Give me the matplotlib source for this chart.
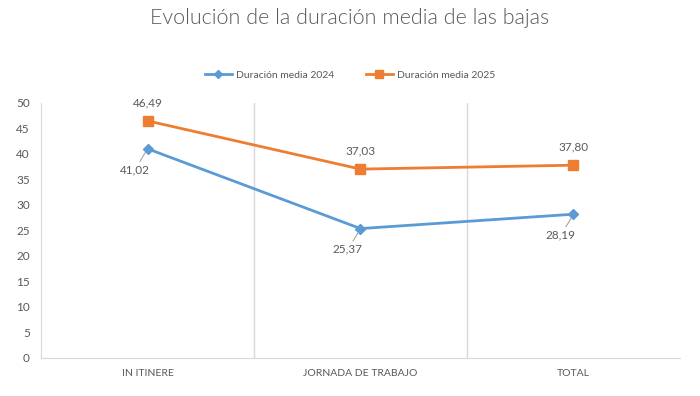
import matplotlib
matplotlib.use("Agg")
import matplotlib.pyplot as plt

plt.rcParams['font.family'] = ['Lato', 'DejaVu Sans']

# Datos
categorias = ["IN ITINERE", "JORNADA DE TRABAJO", "TOTAL"]
media_2024 = [41.02, 25.37, 28.19]
media_2025 = [46.49, 37.03, 37.80]
nombres = ["Duración media 2024", "Duración media 2025"]

azul = "#5B9BD5"
naranja = "#ED7D31"
gris_txt = "#595959"
gris_linea = "#D9D9D9"

fig = plt.figure(figsize=(7, 3.96), dpi=100)
ax = fig.add_axes([0.0586, 0.096, 0.9128, 0.644])

x = list(range(len(categorias)))
ax.plot(x, media_2024, color=azul, lw=2, marker="D", ms=5, label=nombres[0])
ax.plot(x, media_2025, color=naranja, lw=2, marker="s", ms=6.5, label=nombres[1])

ax.set_xlim(-0.5, len(categorias) - 0.5)
ax.set_ylim(0, 50)
ax.set_yticks(range(0, 51, 5))

# Lineas verticales entre categorias
for b in [i + 0.5 for i in range(len(categorias) - 1)]:
    ax.axvline(b, color=gris_linea, lw=1, zorder=0)

for s in ["top", "right"]:
    ax.spines[s].set_visible(False)
for s in ["left", "bottom"]:
    ax.spines[s].set_color(gris_linea)

ax.set_xticks(x)
ax.set_xticklabels(categorias, fontsize=7.5, color=gris_txt)
ax.tick_params(axis="x", length=0, pad=8)
ax.tick_params(axis="y", length=0, labelsize=8.5, labelcolor=gris_txt, pad=8)

# Etiquetas de datos
def fmt(v):
    return f"{v:.2f}".replace(".", ",")

for xi, v in zip(x, media_2024):
    ax.annotate(fmt(v), (xi, v), xytext=(-9, -15), textcoords="offset points",
                ha="center", va="center", fontsize=8.5, color=gris_txt,
                arrowprops=dict(arrowstyle="-", color="#A6A6A6", lw=0.8,
                                shrinkA=0, shrinkB=3))
for xi, v in zip(x, media_2025):
    ax.annotate(fmt(v), (xi, v), xytext=(0, 13), textcoords="offset points",
                ha="center", va="center", fontsize=8.5, color=gris_txt)

fig.text(0.5, 0.955, "Evolución de la duración media de las bajas",
         ha="center", va="center", fontsize=15.5, color=gris_txt,
         fontweight=300)

fig.legend(loc="center", bbox_to_anchor=(0.5, 0.81), ncol=2, frameon=False,
           fontsize=7.5, labelcolor=gris_txt, handlelength=2.6, columnspacing=3,
           markerscale=0.8, handletextpad=0.4)

fig.savefig("out.png", dpi=100)
